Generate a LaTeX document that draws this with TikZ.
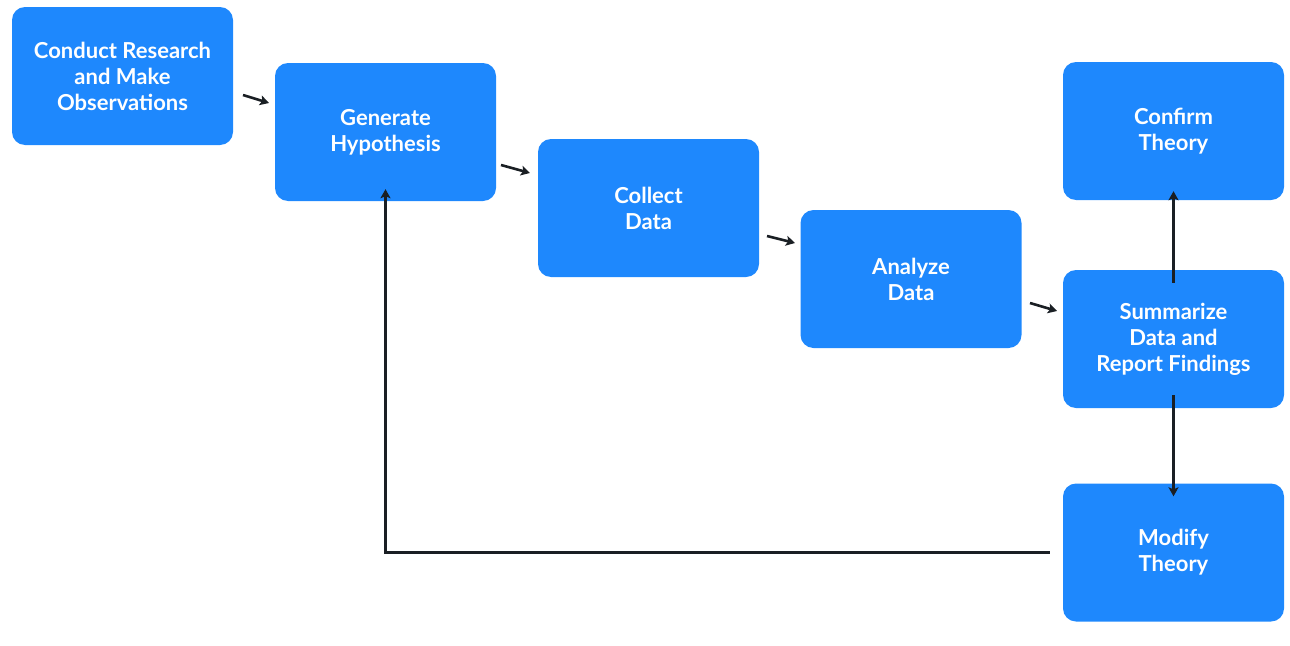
\documentclass[tikz,border=0pt]{standalone}
\usepackage{fontspec}
\setmainfont{Lato}
\usetikzlibrary{arrows.meta}
\definecolor{boxblue}{HTML}{1E88FD}
\definecolor{arr}{HTML}{1A1F24}
\begin{document}
\begin{tikzpicture}[x=1pt,y=-1pt,
  box/.style={fill=boxblue,rounded corners=13pt,minimum width=221pt,minimum height=138pt,
    text=white,font=\fontsize{22}{26}\selectfont\bfseries,align=center,inner sep=0pt},
  ar/.style={draw=arr,line width=2.6pt,-{Stealth[length=9pt,width=10pt,inset=2pt]}}]
\useasboundingbox (0,0) rectangle (1290,645);
\node[box] (a) at (122.5,76) {Conduct Research\\and Make\\Observations};
\node[box] (b) at (385.5,132) {Generate\\Hypothesis};
\node[box] (c) at (648.5,208) {Collect\\Data};
\node[box] (d) at (911,279) {Analyze\\Data};
\node[box] (e) at (1173.5,339) {Summarize\\Data and\\Report Findings};
\node[box] (f) at (1173.5,131) {Confirm\\Theory};
\node[box] (g) at (1173.5,552.5) {Modify\\Theory};
\coordinate (a1) at (243,95); \coordinate (a2) at (269,103);
\coordinate (b1) at (501,165); \coordinate (b2) at (530,173);
\coordinate (c1) at (767,236); \coordinate (c2) at (795,243);
\coordinate (d1) at (1030,303); \coordinate (d2) at (1057,311);
\draw[ar] (a1) -- (a2);
\draw[ar] (b1) -- (b2);
\draw[ar] (c1) -- (c2);
\draw[ar] (d1) -- (d2);
\draw[ar] ([yshift=-13pt]e.north) -- ([yshift=9pt]f.south);
\draw[ar] ([yshift=13pt]e.south) -- ([yshift=-13pt]g.north);
\draw[ar,-{Stealth[length=9pt,width=10pt,inset=2pt]}] ([xshift=-13pt]g.west) -| ([yshift=12pt]b.south);
\end{tikzpicture}
\end{document}
